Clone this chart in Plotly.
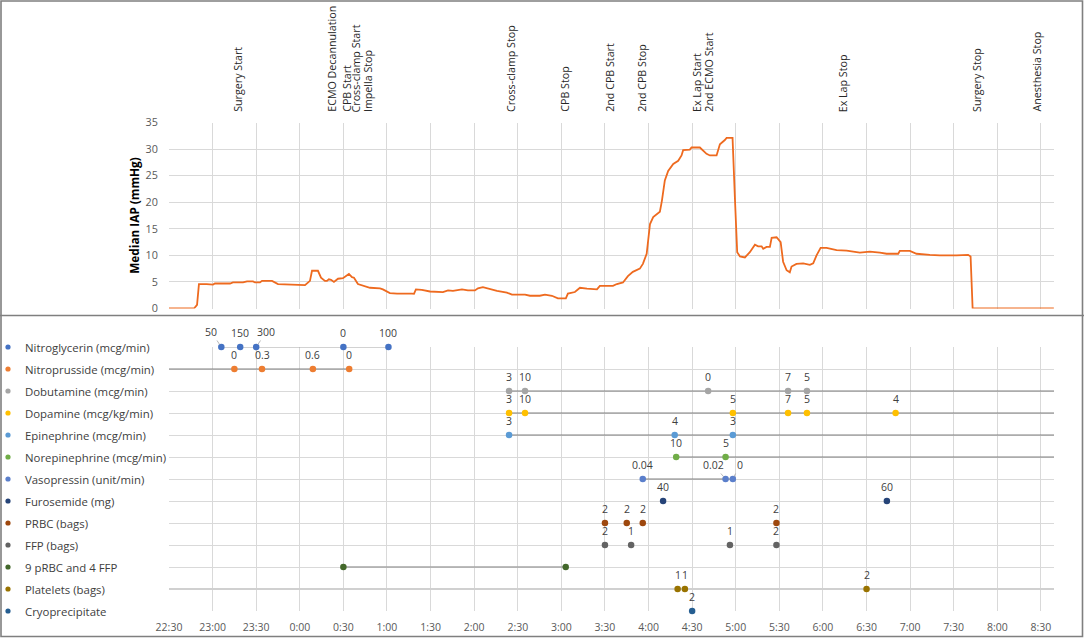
import plotly.graph_objects as go
from datetime import datetime, timedelta

W, H = 1084, 638
FONT = "Open Sans"

# ---------------- data ----------------
# Median intra-abdominal pressure, minutes after 22:30
iap_minutes = [0, 17.2, 19.3, 20.6, 25.9, 28.2, 30.3, 31.6, 42, 44, 50.9, 53.7, 57.8, 59.2, 62.6, 64,
               70.9, 75, 88, 90.1, 93.6, 97, 98.4, 102.5, 104.6, 107.3, 108.7, 110, 111.5, 113.5, 116.3,
               119.7, 123.8, 125.9, 127.3, 130, 133.5, 138.3, 145.2, 147.2, 152, 156.9, 167.2, 168.6,
               169.9, 174, 179.6, 188.5, 192, 195.4, 201.6, 205.7, 210.5, 212.6, 216, 219.5, 225.7,
               232.5, 236, 245, 248.4, 255.2, 258.7, 263.5, 267.6, 273.1, 274.5, 279.3, 282.8, 287.6,
               294.5, 296.5, 305.5, 308.2, 312.4, 315.8, 319.2, 324, 326.1, 328.7, 331, 333.2, 337.8,
               339.2, 341.2, 343.5, 347, 350.4, 352.7, 353.8, 358.4, 359.6, 365.3, 369.9, 372.2, 376.8,
               379.1, 382.5, 383.7, 387.8, 388.7, 389.4, 391, 392.9, 396.3, 399.7, 403.2, 405.4, 407.8,
               408.9, 411.2, 413.5, 414.7, 418.1, 420.9, 422.6, 425, 427.2, 428.4, 431.8, 436.4, 441,
               443.3, 445.6, 448.4, 452.5, 459.4, 466.3, 475.4, 482.3, 489.2, 493.8, 501.8, 502.9,
               509.8, 514.4, 523.6, 530.4, 541.9, 549.9, 551.6, 553, 608.9]
iap_mmhg = [0, 0, 0.7, 4.6, 4.6, 4.5, 4.5, 4.7, 4.7, 4.9, 4.9, 5.1, 5.1, 4.9, 4.9, 5.2,
            5.2, 4.6, 4.5, 4.4, 4.4, 5.2, 7.1, 7.1, 5.8, 5.2, 5.2, 5.5, 5.4, 5.0, 5.6,
            5.7, 6.5, 5.9, 5.8, 4.6, 4.3, 3.9, 3.8, 3.6, 2.9, 2.8, 2.8, 2.75,
            3.6, 3.5, 3.2, 3.1, 3.4, 3.3, 3.6, 3.4, 3.4, 3.8, 4.0, 3.7, 3.3,
            3.0, 2.6, 2.6, 2.4, 2.4, 2.6, 2.4, 1.9, 1.9, 2.8, 3.1, 3.9, 3.75,
            3.6, 4.25, 4.25, 4.6, 4.9, 6.1, 6.9, 7.5, 8.4, 10.3, 15.9, 17.2, 18.2,
            20.3, 24.1, 25.9, 27.2, 27.8, 28.8, 29.8, 29.9, 30.3, 30.3, 29.1, 28.8, 28.8,
            30.9, 31.7, 32.1, 32.1, 27.2, 20.9, 10.6, 9.8, 9.6, 10.6, 12.0, 11.7, 11.7,
            11.25, 11.6, 11.6, 13.3, 13.4, 12.5, 8.8, 7.2, 6.8, 7.9, 8.4, 8.5, 8.2,
            8.5, 10.0, 11.4, 11.4, 11.0, 10.9, 10.5, 10.7, 10.5, 10.3, 10.3, 10.85,
            10.85, 10.3, 10.1, 10.0, 10.0, 10.1, 9.8, 0, 0]

event_times = ["23:17", "0:22", "0:32", "0:39", "0:47", "2:25", "3:02", "3:33", "3:55",
               "4:33", "4:41", "6:14", "7:46", "8:27"]
event_labels = ["Surgery Start", "ECMO Decannulation", "CPB Start", "Cross-clamp Start",
                "Impella Stop", "Cross-clamp Stop", "CPB Stop", "2nd CPB Start", "2nd CPB Stop",
                "Ex Lap Start", "2nd ECMO Start", "Ex Lap Stop", "Surgery Stop", "Anesthesia Stop"]

axis_start, axis_end = "22:30", "8:39"

nitroglycerin_times = ["23:06", "23:19", "23:30", "0:30", "1:01"]
nitroglycerin_doses = ["50", "150", "300", "0", "100"]
nitroprusside_times = ["23:15", "23:34", "0:09", "0:34"]
nitroprusside_doses = ["0", "0.3", "0.6", "0"]
dobutamine_times = ["2:24", "2:35", "4:41", "5:36", "5:49"]
dobutamine_doses = ["3", "10", "0", "7", "5"]
dopamine_times = ["2:24", "2:35", "4:58", "5:36", "5:49", "6:50"]
dopamine_doses = ["3", "10", "5", "7", "5", "4"]
epinephrine_times = ["2:24", "4:18", "4:58"]
epinephrine_doses = ["3", "4", "3"]
norepinephrine_times = ["4:19", "4:53"]
norepinephrine_doses = ["10", "5"]
vasopressin_times = ["3:56", "4:53", "4:58"]
vasopressin_doses = ["0.04", "0.02", "0"]
furosemide_times = ["4:10", "6:44"]
furosemide_doses = ["40", "60"]
prbc_times = ["3:30", "3:45", "3:56", "5:28"]
prbc_doses = ["2", "2", "2", "2"]
ffp_times = ["3:30", "3:48", "4:56", "5:28"]
ffp_doses = ["2", "1", "1", "2"]
mtp_times = ["0:30", "3:03"]
mtp_doses = ["", ""]
platelets_times = ["4:20", "4:25", "6:30"]
platelets_doses = ["1", "1", "2"]
cryo_times = ["4:30"]
cryo_doses = ["2"]

series_names = ["Nitroglycerin (mcg/min)", "Nitroprusside (mcg/min)", "Dobutamine (mcg/min)",
                "Dopamine (mcg/kg/min)", "Epinephrine (mcg/min)", "Norepinephrine (mcg/min)",
                "Vasopressin (unit/min)", "Furosemide (mg)", "PRBC (bags)", "FFP (bags)",
                "9 pRBC and 4 FFP", "Platelets (bags)", "Cryoprecipitate"]
series_times = [nitroglycerin_times, nitroprusside_times, dobutamine_times, dopamine_times,
                epinephrine_times, norepinephrine_times, vasopressin_times, furosemide_times,
                prbc_times, ffp_times, mtp_times, platelets_times, cryo_times]
series_doses = [nitroglycerin_doses, nitroprusside_doses, dobutamine_doses, dopamine_doses,
                epinephrine_doses, norepinephrine_doses, vasopressin_doses, furosemide_doses,
                prbc_doses, ffp_doses, mtp_doses, platelets_doses, cryo_doses]
# infusion running periods (start, stop)
series_spans = [("23:06", "1:01"), ("22:30", "0:34"), ("2:24", "8:39"), ("2:24", "8:39"),
                ("2:24", "8:39"), ("4:19", "8:39"), ("3:56", "4:58"), None, None, None,
                ("0:30", "3:03"), ("22:30", "8:39"), None]

# ---------------- styles ----------------
series_colors = ["#4472C4", "#ED7D31", "#A5A5A5", "#FFC000", "#5B9BD5", "#70AD47",
                 "#5B7FCB", "#264478", "#9E480E", "#636363", "#43682B", "#997300", "#255E91"]
span_colors = ["#A6A6A6", "#808080", "#808080", "#808080", "#808080", "#808080", "#808080",
               None, None, None, "#A6A6A6", "#D0D0D0", None]
span_widths = [1.2, 1.2, 1.2, 1.2, 1.2, 1.2, 1.2, 0, 0, 0, 1.5, 2.2, 0]
# labels drawn with a leader line: (series index, point index) -> pixel offset
leader_offsets = {(0, 0): (-10, -15), (0, 2): (10, -15), (6, 1): (-12, -14), (6, 2): (7, -14)}


def to_dt(hhmm):
    h, m = map(int, hhmm.split(":"))
    day = 1 if h >= 12 else 2
    return datetime(2020, 1, day, h, m)


base = to_dt(axis_start)
iap_x = [base + timedelta(minutes=m) for m in iap_minutes]

xdom = [169 / W, 1054 / W]
ytop = [(H - 308.5) / H, (H - 122.5) / H]
ybot = [(H - 611) / H, (H - 347) / H]
nrows = len(series_names)


def row_paper(r):
    return ybot[1] - r / (nrows - 1) * (ybot[1] - ybot[0])


fig = go.Figure()

fig.add_trace(go.Scatter(x=iap_x, y=iap_mmhg, mode="lines", xaxis="x", yaxis="y",
                         line=dict(color="#EE6A1F", width=1.8), hoverinfo="skip"))

annotations = []
shapes = []

for r, name in enumerate(series_names):
    span = series_spans[r]
    if span is not None:
        fig.add_trace(go.Scatter(x=[to_dt(span[0]), to_dt(span[1])], y=[r, r], mode="lines",
                                 xaxis="x2", yaxis="y2", cliponaxis=False, hoverinfo="skip",
                                 line=dict(color=span_colors[r], width=span_widths[r])))
for r, name in enumerate(series_names):
    xs = [to_dt(t) for t in series_times[r]]
    fig.add_trace(go.Scatter(x=xs, y=[r] * len(xs), mode="markers", xaxis="x2", yaxis="y2",
                             cliponaxis=False, hoverinfo="skip",
                             marker=dict(color=series_colors[r], size=6.5, line=dict(width=0))))
    for i, (x, lab) in enumerate(zip(xs, series_doses[r])):
        if not lab:
            continue
        if (r, i) in leader_offsets:
            ax, ay = leader_offsets[(r, i)]
            annotations.append(dict(x=x, y=r, xref="x2", yref="y2", text=lab, showarrow=True,
                                    ax=ax, ay=ay, arrowhead=0, arrowwidth=0.8,
                                    arrowcolor="#A6A6A6", standoff=3,
                                    font=dict(family=FONT, size=10.5, color="#404040")))
        else:
            annotations.append(dict(x=x, y=r, xref="x2", yref="y2", text=lab, showarrow=False,
                                    yshift=14, font=dict(family=FONT, size=10.5, color="#404040")))
    # legend entry
    annotations.append(dict(x=23 / W, y=row_paper(r), xref="paper", yref="paper", text=name,
                            showarrow=False, xanchor="left", yanchor="middle",
                            font=dict(family=FONT, size=11.4, color="#404040")))
    shapes.append(dict(type="circle", xref="paper", yref="paper", xsizemode="pixel",
                       ysizemode="pixel", xanchor=8 / W, yanchor=row_paper(r),
                       x0=-2.6, x1=2.6, y0=-2.6, y1=2.6,
                       fillcolor=series_colors[r], line=dict(width=0)))

for t, lab in zip(event_times, event_labels):
    annotations.append(dict(x=to_dt(t), y=(H - 114) / H, xref="x", yref="paper", text=lab,
                            showarrow=False, textangle=-90, xanchor="center", yanchor="bottom",
                            font=dict(family=FONT, size=10.7, color="#262626")))

# panel frames
shapes.append(dict(type="rect", xref="paper", yref="paper", x0=1 / W, x1=(W - 1.5) / W,
                   y0=1.5 / H, y1=(H - 1) / H, line=dict(color="#7F7F7F", width=1.6)))
shapes.append(dict(type="line", xref="paper", yref="paper", x0=0, x1=1,
                   y0=(H - 315.5) / H, y1=(H - 315.5) / H, line=dict(color="#7F7F7F", width=1.6)))

grid = "#D9D9D9"
half_hour = 30 * 60 * 1000
xcommon = dict(type="date", domain=xdom, range=[to_dt(axis_start), to_dt(axis_end)],
               tick0=to_dt(axis_start), dtick=half_hour, showgrid=True, gridcolor=grid,
               gridwidth=1, zeroline=False, showline=False, automargin=False)

fig.update_layout(
    width=W, height=H, margin=dict(l=0, r=0, t=0, b=0),
    paper_bgcolor="white", plot_bgcolor="white", showlegend=False,
    font=dict(family=FONT, color="#595959"),
    xaxis=dict(**xcommon, anchor="y", showticklabels=False),
    yaxis=dict(domain=ytop, range=[0, 35], dtick=5, showgrid=True, gridcolor=grid,
               zeroline=False, showline=False, automargin=False, anchor="x",
               ticks="outside", ticklen=8, tickcolor="rgba(0,0,0,0)",
               tickfont=dict(family=FONT, size=10.8, color="#595959"),
               title=dict(text="<b>Median IAP (mmHg)</b>", standoff=3,
                          font=dict(family=FONT, size=11.8, color="#000000"))),
    xaxis2=dict(**xcommon, anchor="y2", tickformat="%-H:%M", ticks="outside", ticklen=6,
                tickcolor="rgba(0,0,0,0)", tickfont=dict(family=FONT, size=10.5, color="#595959")),
    yaxis2=dict(domain=ybot, range=[nrows - 1, 0], dtick=1, showgrid=True, gridcolor=grid,
                zeroline=False, showline=False, showticklabels=False, automargin=False,
                anchor="x2"),
    annotations=annotations,
    shapes=shapes,
)

fig.write_html("out.html", config={"displayModeBar": False},
               post_script="document.body.style.margin='0px';document.body.style.overflow='hidden';")
